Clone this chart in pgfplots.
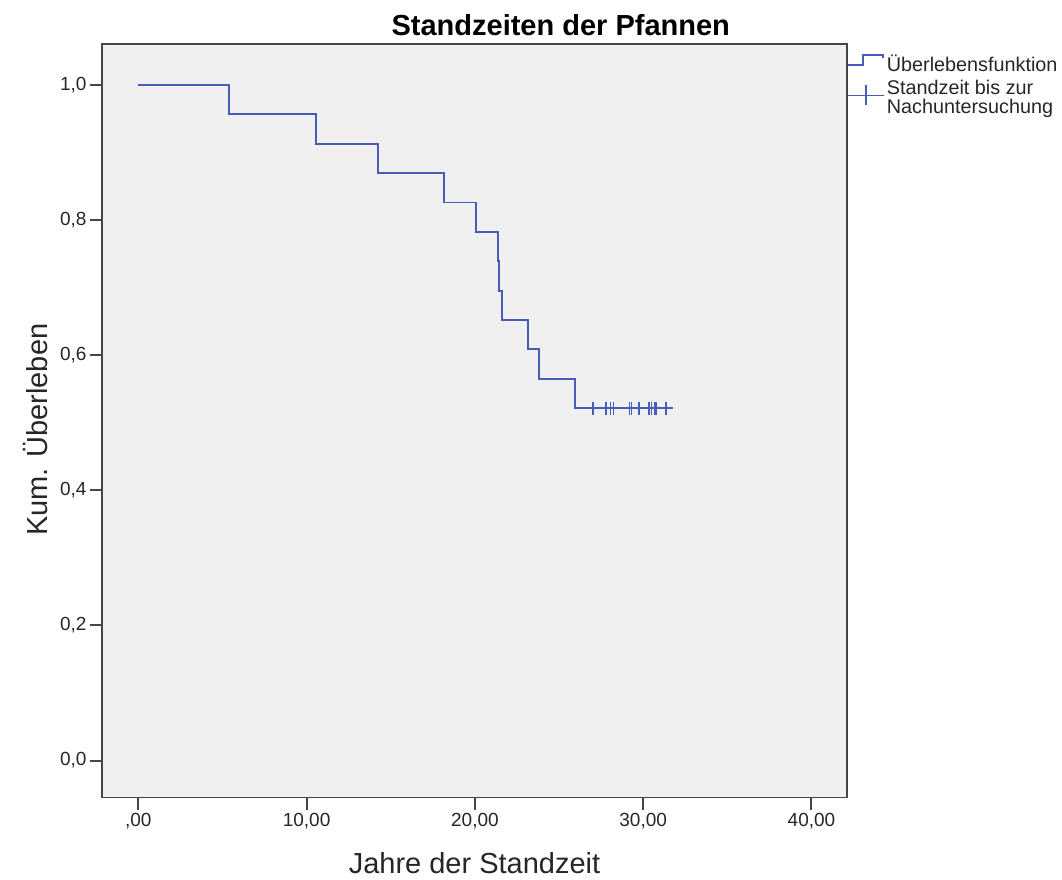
\documentclass[border=0pt]{standalone}
\usepackage{fontspec}
\setmainfont{Liberation Sans}
\usepackage{pgfplots}
\pgfplotsset{compat=1.18}
\definecolor{kmblue}{RGB}{72,94,182}
\definecolor{bggray}{RGB}{240,240,240}
\definecolor{framegray}{RGB}{70,70,70}
\begin{document}
\begin{tikzpicture}
\path[use as bounding box] (-102pt,-82.5pt) rectangle (960pt,797.5pt);
\begin{axis}[
  at={(0pt,0pt)}, anchor=south west,
  scale only axis, width=745pt, height=753.5pt,
  xmin=-2.157, xmax=42.11, ymin=-0.0547, ymax=1.0607,
  axis background/.style={fill=bggray},
  axis line style={framegray, line width=1.6pt},
  major tick style={draw=framegray, line width=2pt},
  xtick style={draw=framegray, line width=2pt},
  ytick style={draw=framegray, line width=2pt},
  tick align=outside, major tick length=12pt,
  xtick={0,10,20,30,40},
  xticklabels={{,00},{10,00},{20,00},{30,00},{40,00}},
  ytick={0,0.2,0.4,0.6,0.8,1},
  yticklabels={{0,0},{0,2},{0,4},{0,6},{0,8},{1,0}},
  xtick pos=bottom, ytick pos=left,
  ticklabel style={font=\fontsize{19}{22}\selectfont, text=black!85},
  title={Standzeiten der Pfannen},
  title style={font=\fontsize{29}{32}\selectfont\bfseries, at={(axis description cs:0.6158,1.003)}, anchor=base},
  xlabel={Jahre der Standzeit},
  xlabel style={font=\fontsize{29}{32}\selectfont, text=black!85, at={(axis description cs:0.5,-0.1015)}, anchor=base},
  ylabel={Kum. Überleben},
  ylabel style={font=\fontsize{29}{32}\selectfont, text=black!85, at={(axis description cs:-0.0725,0.488)}, anchor=base},
  legend style={at={(axis description cs:1,1)}, anchor=north west, draw=none, fill=none,
    inner sep=0pt, font=\fontsize{19.8}{18.5}\selectfont, text=black!85,
    cells={align=left, anchor=west}, yshift=-9pt, row sep=3pt},
  legend cell align=left,
  clip=false,
]
\addplot[kmblue, line width=1.9pt, const plot,
  legend image code/.code={\draw[kmblue, line width=1.8pt] (0pt,-1pt) -- (15pt,-1pt) -- (15pt,9pt) -- (35pt,9pt) -- (35pt,6pt);}]
  coordinates {
  (0,1) (5.41,0.95652) (10.58,0.91304) (14.24,0.86957) (18.16,0.82609)
  (20.05,0.78261) (21.35,0.73913) (21.43,0.69565) (21.63,0.65217)
  (23.14,0.60870) (23.83,0.56522) (25.94,0.52174) (31.36,0.52174)
  };
\addlegendentry{Überlebensfunktion}
\addplot[kmblue, only marks, mark=+, mark size=6.5pt, mark options={line width=1.8pt},
  legend image code/.code={\draw[kmblue, line width=1.6pt] (0pt,2pt) -- (36pt,2pt); \draw[kmblue, line width=1.6pt] (18pt,-8pt) -- (18pt,12pt);}]
  coordinates {
  (27.04,0.52174) (27.79,0.52174) (28.06,0.52174) (28.24,0.52174)
  (29.19,0.52174) (29.30,0.52174) (29.77,0.52174) (30.34,0.52174)
  (30.49,0.52174) (30.70,0.52174) (30.79,0.52174) (31.36,0.52174)
  };
\addlegendentry{Standzeit bis zur\\Nachuntersuchung}
\end{axis}
\end{tikzpicture}
\end{document}
